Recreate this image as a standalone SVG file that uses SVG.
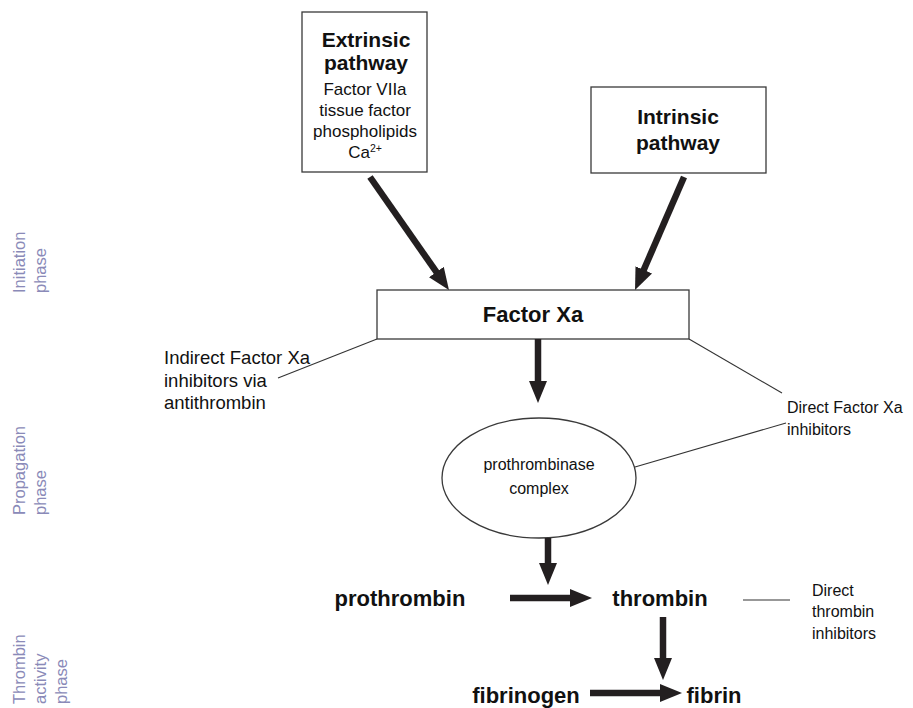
<svg xmlns="http://www.w3.org/2000/svg" width="913" height="708" viewBox="0 0 913 708">
<defs>
<marker id="ah" markerUnits="userSpaceOnUse" markerWidth="22" markerHeight="18" viewBox="0 0 22 18" refX="10" refY="9" orient="auto">
<path d="M0,0 L22,9 L0,18 z" fill="#231f20"/>
</marker>
<style>
.box{fill:#fff;stroke:#3a3a3a;stroke-width:1.3}
.arr{stroke:#231f20;stroke-width:6.5;fill:none;marker-end:url(#ah)}
.thin{stroke:#333;stroke-width:1.1;fill:none}
.b{font-family:"Liberation Sans",Arial,sans-serif;font-weight:bold;font-size:22px;fill:#111}
.bt{font-family:"Liberation Sans",Arial,sans-serif;font-weight:bold;font-size:21px;fill:#111}
.n{font-family:"Liberation Sans",Arial,sans-serif;font-size:16px;fill:#111}
.ni{font-family:"Liberation Sans",Arial,sans-serif;font-size:17px;fill:#111}
.nl{font-family:"Liberation Sans",Arial,sans-serif;font-size:18.5px;fill:#111}
.ph{font-family:"Liberation Sans",Arial,sans-serif;font-size:16.5px;fill:#8a8ab8}
</style>
</defs>
<g id="phase-labels">
<text class="ph" transform="translate(25,293) rotate(-90)">Initiation</text>
<text class="ph" transform="translate(46,293) rotate(-90)">phase</text>
<text class="ph" transform="translate(25,515) rotate(-90)">Propagation</text>
<text class="ph" transform="translate(46,515) rotate(-90)">phase</text>
<text class="ph" transform="translate(25,704) rotate(-90)">Thrombin</text>
<text class="ph" transform="translate(46,704) rotate(-90)">activity</text>
<text class="ph" transform="translate(67,704) rotate(-90)">phase</text>
</g>
<g id="extrinsic">
<rect class="box" x="302" y="12" width="125" height="160"/>
<text class="bt" x="366" y="47" text-anchor="middle">Extrinsic</text>
<text class="bt" x="366" y="70" text-anchor="middle">pathway</text>
<text class="ni" x="365" y="95" text-anchor="middle">Factor VIIa</text>
<text class="ni" x="365" y="116" text-anchor="middle">tissue factor</text>
<text class="ni" x="365" y="137" text-anchor="middle">phospholipids</text>
<text class="ni" x="365" y="158" text-anchor="middle">Ca<tspan font-size="10.5" dy="-6">2+</tspan></text>
</g>
<g id="intrinsic">
<rect class="box" x="591" y="87" width="175" height="86"/>
<text class="bt" x="678" y="124" text-anchor="middle">Intrinsic</text>
<text class="bt" x="678" y="150" text-anchor="middle">pathway</text>
</g>
<g id="factor-xa">
<rect class="box" x="377" y="290" width="312" height="49"/>
<text class="b" x="533" y="322" text-anchor="middle">Factor Xa</text>
</g>
<g id="prothrombinase">
<ellipse class="box" cx="539" cy="478" rx="97" ry="60"/>
<text class="n" x="539" y="470" text-anchor="middle">prothrombinase</text>
<text class="n" x="539" y="494" text-anchor="middle">complex</text>
</g>
<g id="indirect-xa">
<text class="nl" x="164" y="364">Indirect Factor Xa</text>
<text class="nl" x="164" y="386.5">inhibitors via</text>
<text class="nl" x="164" y="409">antithrombin</text>
</g>
<g id="direct-xa">
<text class="n" x="787" y="413">Direct Factor Xa</text>
<text class="n" x="787" y="435">inhibitors</text>
</g>
<g id="prothrombin"><text class="b" x="400" y="606" text-anchor="middle">prothrombin</text></g>
<g id="thrombin"><text class="b" x="660" y="606" text-anchor="middle">thrombin</text></g>
<g id="direct-thrombin">
<text class="n" x="812" y="596">Direct</text>
<text class="n" x="812" y="617">thrombin</text>
<text class="n" x="812" y="639">inhibitors</text>
</g>
<g id="fibrinogen"><text class="b" x="526" y="703" text-anchor="middle">fibrinogen</text></g>
<g id="fibrin"><text class="b" x="714" y="703" text-anchor="middle">fibrin</text></g>
<g id="connectors">
<line class="arr" x1="370" y1="177" x2="442.1" y2="280.2"/>
<line class="arr" x1="684" y1="177" x2="639.8" y2="279"/>
<line class="arr" x1="538" y1="339" x2="538" y2="391"/>
<line class="arr" x1="548" y1="538" x2="548" y2="573"/>
<line class="arr" x1="510" y1="598" x2="580" y2="598"/>
<line class="arr" x1="663" y1="617" x2="663" y2="668"/>
<line class="arr" x1="590" y1="693" x2="670" y2="693"/>
<line class="thin" x1="377" y1="339" x2="278" y2="378"/>
<line class="thin" x1="689" y1="339" x2="782" y2="393"/>
<line class="thin" x1="635" y1="467" x2="786" y2="423"/>
<line class="thin" x1="743" y1="600" x2="790" y2="600"/>
</g>
</svg>
